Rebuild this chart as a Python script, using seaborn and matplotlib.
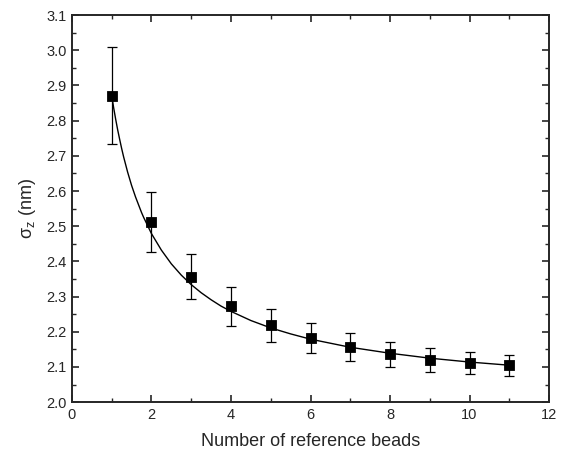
import matplotlib
matplotlib.use("Agg")
import matplotlib.pyplot as plt
from matplotlib.ticker import MultipleLocator
import pandas as pd
import seaborn as sns

n_beads = [1, 2, 3, 4, 5, 6, 7, 8, 9, 10, 11]
sigma_z = [2.871, 2.512, 2.357, 2.272, 2.218, 2.183, 2.157, 2.136, 2.121, 2.112, 2.105]
sigma_err = [0.138, 0.085, 0.065, 0.055, 0.048, 0.043, 0.039, 0.036, 0.034, 0.031, 0.030]

# fitted curve, sampled off the figure
fit_x = [1, 1.05, 1.1, 1.15, 1.2, 1.25, 1.3, 1.4, 1.5, 1.6, 1.75, 1.8, 2,
         2.25, 2.5, 2.75, 3, 3.25, 3.5, 3.75, 4, 4.5, 5, 5.5, 6, 7, 8, 9, 10, 11]
fit_y = [2.871, 2.836, 2.804, 2.774, 2.747, 2.721, 2.697, 2.654, 2.616, 2.583,
         2.539, 2.526, 2.479, 2.432, 2.393, 2.361, 2.334, 2.311, 2.291, 2.273,
         2.258, 2.232, 2.211, 2.194, 2.179, 2.156, 2.139, 2.125, 2.114, 2.105]

sns.set_theme(style="ticks")
plt.rcParams.update({
    "font.family": ["Liberation Sans", "DejaVu Sans"],
    "font.size": 11,
    "mathtext.default": "regular",
    "axes.linewidth": 1.4,
    "xtick.direction": "in",
    "ytick.direction": "in",
    "xtick.top": True,
    "ytick.right": True,
})

pts = pd.DataFrame({"n": n_beads, "sigma": sigma_z, "err": sigma_err})
fit = pd.DataFrame({"n": fit_x, "sigma": fit_y})

fig = plt.figure(figsize=(5.62, 4.57), dpi=100)
ax = fig.add_axes([0.128, 0.120, 0.849, 0.847])

sns.lineplot(data=fit, x="n", y="sigma", ax=ax, color="black", linewidth=1.0)
ax.errorbar(pts["n"], pts["sigma"], yerr=pts["err"], fmt="none",
            ecolor="black", elinewidth=0.9, capsize=3.5, capthick=0.9)
sns.scatterplot(data=pts, x="n", y="sigma", ax=ax, marker="s", s=55,
                color="black", edgecolor="black", zorder=3)

ax.set_xlim(0, 12)
ax.set_ylim(2.0, 3.1)
ax.xaxis.set_major_locator(MultipleLocator(2))
ax.xaxis.set_minor_locator(MultipleLocator(1))
ax.yaxis.set_major_locator(MultipleLocator(0.1))
ax.yaxis.set_minor_locator(MultipleLocator(0.05))
ax.yaxis.set_major_formatter(matplotlib.ticker.FormatStrFormatter("%.1f"))
ax.tick_params(which="major", length=5, width=1.2, labelsize=10.5, pad=4)
ax.tick_params(which="minor", length=3, width=1.0, top=True, right=True)

ax.set_xlabel("Number of reference beads", fontsize=13, labelpad=8)
ax.set_ylabel("σ$_z$ (nm)", fontsize=13, labelpad=6)

fig.savefig("out.png", dpi=100)
plt.close(fig)
